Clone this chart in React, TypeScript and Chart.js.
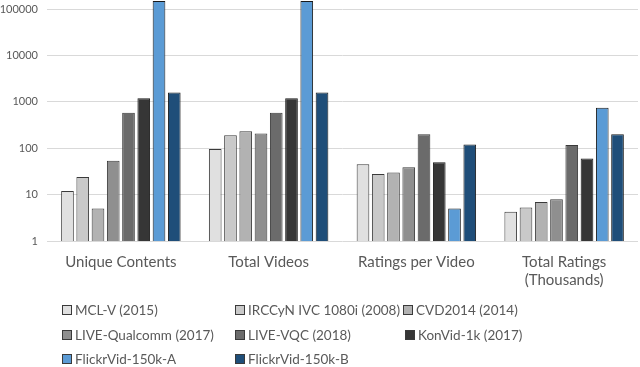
import React, { useEffect, useRef } from "react";
import { Chart, registerables } from "chart.js";

Chart.register(...registerables);

const categories: (string | string[])[] = [
  "Unique Contents",
  "Total Videos",
  "Ratings per Video",
  ["Total Ratings", "(Thousands)"],
];

const seriesNames = [
  "MCL-V (2015)",
  "IRCCyN IVC 1080i (2008)",
  "CVD2014 (2014)",
  "LIVE-Qualcomm (2017)",
  "LIVE-VQC (2018)",
  "KonVid-1k (2017)",
  "FlickrVid-150k-A",
  "FlickrVid-150k-B",
];

const mclV = [12, 96, 45, 4.3];
const irccyn = [24, 192, 28, 5.3];
const cvd2014 = [5, 234, 30, 6.9];
const liveQualcomm = [54, 208, 39, 8];
const liveVqc = [585, 585, 200, 117];
const konvid = [1200, 1200, 50, 60];
const flickrA = [150000, 150000, 5, 750];
const flickrB = [1600, 1600, 120, 200];

const seriesValues = [mclV, irccyn, cvd2014, liveQualcomm, liveVqc, konvid, flickrA, flickrB];

const tickValues = [1, 10, 100, 1000, 10000, 100000];

const colors = ["#e0e0e0", "#c9c9c9", "#b2b2b2", "#8f8f8f", "#6b6b6b", "#363636", "#5b9bd5", "#1f4e79"];
const borders = ["#3a3a3a", "#3a3a3a", "#3a3a3a", "#3a3a3a", "#3a3a3a", "#1a1a1a", "#1a1a1a", "#1a1a1a"];

const FONT = "Lato, 'Open Sans', sans-serif";

const legendPos = [
  { x: 62, y: 310 },
  { x: 235, y: 310 },
  { x: 403, y: 310 },
  { x: 62, y: 335 },
  { x: 235, y: 335 },
  { x: 405, y: 335 },
  { x: 62, y: 359 },
  { x: 235, y: 359 },
];

export default function App() {
  const ref = useRef<HTMLCanvasElement | null>(null);

  useEffect(() => {
    if (!ref.current) return;
    const chart = new Chart(ref.current, {
      type: "bar",
      data: {
        labels: categories,
        datasets: seriesNames.map((name, i) => ({
          label: name,
          data: seriesValues[i],
          backgroundColor: colors[i],
          borderColor: borders[i],
          borderWidth: 1,
          barPercentage: 0.83,
          categoryPercentage: 0.826,
        })),
      },
      options: {
        animation: false,
        responsive: false,
        maintainAspectRatio: false,
        layout: { padding: { left: 0, right: 2, top: 1, bottom: 76 } },
        plugins: { legend: { display: false }, tooltip: { enabled: false } },
        scales: {
          x: {
            grid: { display: false, drawTicks: false },
            border: { display: false },
            ticks: {
              color: "#595959",
              font: { family: FONT, size: 15, lineHeight: 1.2 },
              padding: 12,
              maxRotation: 0,
              autoSkip: false,
            },
            afterFit: (s: any) => {
              s.height = 50;
              s.paddingLeft = 0;
              s.paddingRight = 0;
            },
          },
          y: {
            type: "logarithmic",
            min: 1,
            max: 150000,
            grid: { color: "#d9d9d9", lineWidth: 1, drawTicks: false },
            border: { display: false },
            afterBuildTicks: (s: any) => {
              s.ticks = tickValues.map((v) => ({ value: v }));
            },
            ticks: {
              color: "#595959",
              font: { family: FONT, size: 11 },
              padding: 9,
              callback: (v: any) => String(v),
            },
            afterFit: (s: any) => {
              s.width = 47;
              s.paddingTop = 0;
              s.paddingBottom = 0;
            },
          },
        },
      },
    });
    return () => chart.destroy();
  }, []);

  return (
    <div style={{ position: "fixed", left: 0, top: 0, width: 640, height: 367, background: "#fff" }}>
      <canvas ref={ref} width={640} height={367} style={{ position: "absolute", left: 0, top: 0 }} />
      {seriesNames.map((name, i) => (
        <div
          key={name}
          style={{
            position: "absolute",
            left: legendPos[i].x,
            top: legendPos[i].y - 9,
            height: 18,
            display: "flex",
            alignItems: "center",
            fontFamily: FONT,
            fontSize: 13.5,
            color: "#595959",
            whiteSpace: "nowrap",
          }}
        >
          <span
            style={{
              display: "inline-block",
              width: 8,
              height: 8,
              background: colors[i],
              border: "1px solid #3a3a3a",
              marginRight: 3,
            }}
          />
          <span>{name}</span>
        </div>
      ))}
    </div>
  );
}
